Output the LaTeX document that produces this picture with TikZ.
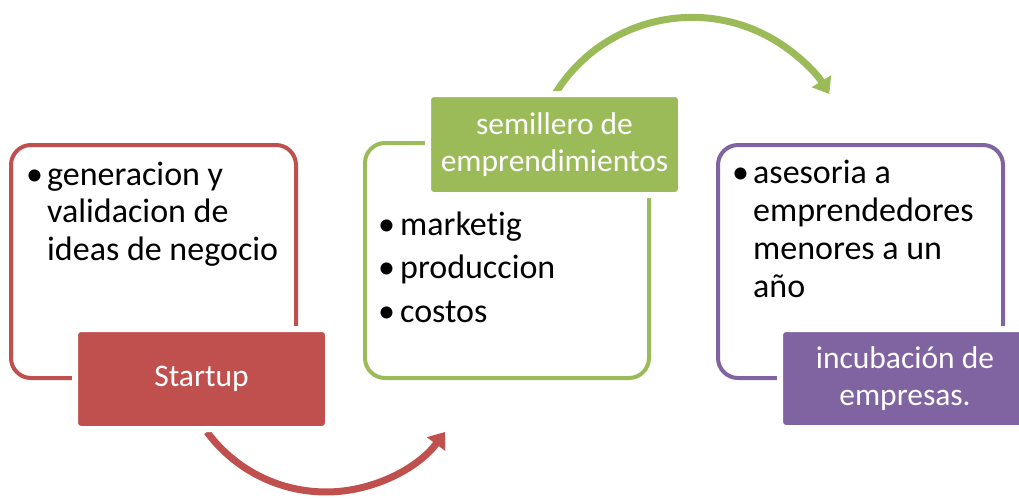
\documentclass[tikz,border=0pt]{standalone}
\usepackage{fontspec}
\setmainfont{Carlito}[Ligatures={NoCommon}]
\usetikzlibrary{arrows.meta}
\definecolor{cred}{HTML}{C0504D}
\definecolor{cgreen}{HTML}{9BBB59}
\definecolor{cpurple}{HTML}{8064A2}
\begin{document}
\begin{tikzpicture}[x=1pt,y=-1pt,
  frame/.style={draw, line width=4pt, rounded corners=20pt, fill=white, inner sep=0pt},
  labelbox/.style={rounded corners=6pt, draw=white, line width=6pt, text=white, align=center,
    font=\fontsize{31.5}{37}\selectfont, inner sep=0pt},
  listtext/.style={anchor=base west, inner sep=0pt, text=black},
  arc/.style={line width=7pt, -{Triangle[width=22pt,length=15pt]}}]
\useasboundingbox (0,0) rectangle (1019,498);

% arrows
\coordinate (a1s) at (207,432);
\coordinate (a2s) at (555,94);
\draw[arc, cred] (a1s) arc[start angle=143.5, end angle=36.5, radius=148];
\draw[arc, cgreen] (a2s) arc[start angle=211.6, end angle=328.4, radius=161];

% frames
\node[frame, draw=cred, minimum width=285pt, minimum height=233pt] (f1) at (153.5,261.5) {};
\node[frame, draw=cgreen, minimum width=284pt, minimum height=235pt] (f2) at (507,260.5) {};
\node[frame, draw=cpurple, minimum width=285pt, minimum height=233pt] (f3) at (860.5,261.5) {};

% label boxes
\node[labelbox, fill=cred, minimum width=253pt, minimum height=100pt] (l1) at (201.5,379) {Startup};
\node[labelbox, fill=cgreen, minimum width=253pt, minimum height=101pt] (l2) at (554.5,144.5) {semillero de\\emprendimientos};
\node[labelbox, fill=cpurple, minimum width=250pt, minimum height=99pt] (l3) at (905,378.5) {incubación de\\empresas.};

% lists
\node[listtext] (t1) at (26,185) {\fontsize{34}{37.5}\selectfont
  \begin{tabular}[t]{@{}p{21pt}@{}l@{}}•&generacion y\\&validacion de\\&ideas de negocio\end{tabular}};
\node[listtext] (t2) at (378,235) {\fontsize{34}{43.5}\selectfont
  \begin{tabular}[t]{@{}p{22pt}@{}l@{}}•&marketig\\•&produccion\\•&costos\end{tabular}};
\node[listtext] (t3) at (732,183) {\fontsize{34}{38}\selectfont
  \begin{tabular}[t]{@{}p{21pt}@{}l@{}}•&asesoria a\\&emprendedores\\&menores a un\\&año\end{tabular}};
\end{tikzpicture}
\end{document}
